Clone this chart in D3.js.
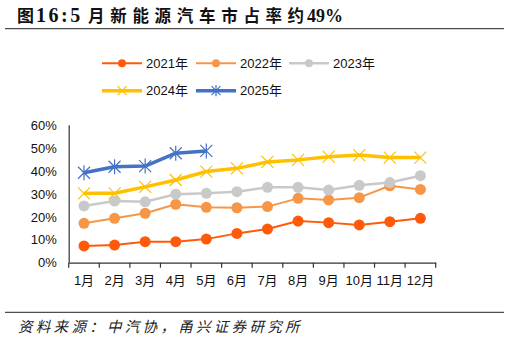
<!DOCTYPE html>
<html>
<head>
<meta charset="utf-8">
<script src="https://cdn.jsdelivr.net/npm/d3@7/dist/d3.min.js"></script>
<style>
  body { margin: 0; background: #fff; }
  svg { display: block; }
</style>
</head>
<body>
<svg id="chart"></svg>
<script>
// categories and series values (share, %)
var months = ["1月", "2月", "3月", "4月", "5月", "6月", "7月", "8月", "9月", "10月", "11月", "12月"];
var s2021 = [7.3, 7.7, 9.2, 9.2, 10.3, 12.8, 14.7, 18.2, 17.5, 16.5, 17.9, 19.4];
var s2022 = [17.2, 19.4, 21.6, 25.5, 24.2, 24.0, 24.5, 28.1, 27.4, 28.4, 33.6, 32.0];
var s2023 = [24.8, 26.9, 26.6, 29.9, 30.3, 31.0, 32.9, 32.9, 31.7, 33.8, 35.0, 38.0];
var s2024 = [30.3, 30.3, 33.1, 36.1, 39.8, 41.2, 44.0, 44.9, 46.3, 47.0, 45.9, 45.9];
var s2025 = [39.3, 41.9, 42.2, 47.8, 48.8];
var yTicks = [0, 10, 20, 30, 40, 50, 60];

var series = [
  { name: "2021年", values: s2021, color: "#FF5A0A", width: 2,   marker: "circle" },
  { name: "2022年", values: s2022, color: "#F79646", width: 2,   marker: "circle" },
  { name: "2023年", values: s2023, color: "#C9C9C9", width: 2.5, marker: "circle" },
  { name: "2024年", values: s2024, color: "#FFC000", width: 3.5, marker: "x" },
  { name: "2025年", values: s2025, color: "#4472C4", width: 3.5, marker: "star" }
];

var W = 510, H = 340;
var margin = { top: 125.3, left: 68.7, right: W - 435.7, bottom: H - 262.7 };
var iw = W - margin.left - margin.right;
var ih = H - margin.top - margin.bottom;

var svg = d3.select("#chart").attr("width", W).attr("height", H);

// title: CJK spaced out, digits tighter
var title = svg.append("text")
  .attr("y", 22)
  .attr("font-family", "'Liberation Serif', 'Noto Sans CJK SC', serif")
  .attr("font-weight", "bold")
  .attr("fill", "#111");
title.append("tspan").attr("x", 17).attr("font-size", 17).text("图");
title.append("tspan").attr("x", 36).attr("font-size", 20).attr("letter-spacing", 2.5).text("16:5");
title.append("tspan").attr("x", 88).attr("font-size", 16.5).attr("letter-spacing", 5.7).text("月新能源汽车市占率");
title.append("tspan").attr("x", 287.5).attr("font-size", 16.5).text("约");
title.append("tspan").attr("x", 307).attr("font-size", 18).text("49%");

svg.append("line")
  .attr("x1", 5).attr("x2", 504).attr("y1", 28.7).attr("y2", 28.7)
  .attr("stroke", "#222").attr("stroke-width", 1);

var g = svg.append("g")
  .attr("transform", "translate(" + margin.left + "," + margin.top + ")");

var x = d3.scaleBand().domain(months).range([0, iw]);
var y = d3.scaleLinear().domain([0, 60]).range([ih, 0]);

var labelFont = "'Liberation Sans', 'Noto Sans CJK SC', sans-serif";

// y axis
var yAxis = g.append("g")
  .call(d3.axisLeft(y).tickValues(yTicks).tickSize(0).tickPadding(12)
    .tickFormat(function (d) { return d + "%"; }));
yAxis.select(".domain").attr("stroke", "#333").attr("stroke-width", 1.2)
  .attr("d", "M0.5,0V" + ih);
yAxis.selectAll("text").attr("font-family", labelFont).attr("font-size", 13).attr("fill", "#111");

// x axis
var xAxis = g.append("g").attr("transform", "translate(0," + ih + ")")
  .call(d3.axisBottom(x).tickSize(0).tickPadding(13));
xAxis.select(".domain").attr("stroke", "#333").attr("stroke-width", 1.2);
xAxis.selectAll("text").attr("font-family", labelFont).attr("font-size", 13).attr("fill", "#111");
// tick marks at band boundaries
g.append("g").selectAll("line")
  .data(d3.range(months.length + 1))
  .enter().append("line")
  .attr("x1", function (i) { return i * x.step(); })
  .attr("x2", function (i) { return i * x.step(); })
  .attr("y1", ih).attr("y2", ih + 5)
  .attr("stroke", "#333").attr("stroke-width", 1.2);

function drawMarker(sel, type, color, size) {
  if (type === "circle") {
    sel.append("circle").attr("r", size).attr("fill", color);
  } else if (type === "x") {
    var s = size;
    sel.append("path").attr("d", "M" + (-s) + "," + (-s) + "L" + s + "," + s + "M" + (-s) + "," + s + "L" + s + "," + (-s))
      .attr("stroke", color).attr("stroke-width", 1.2).attr("fill", "none");
  } else {
    var s = size;
    sel.append("path").attr("d", "M" + (-s) + "," + (-s) + "L" + s + "," + s + "M" + (-s) + "," + s + "L" + s + "," + (-s) +
      "M0," + (-s * 1.25) + "L0," + (s * 1.25))
      .attr("stroke", color).attr("stroke-width", 1.2).attr("fill", "none");
  }
}

var line = d3.line()
  .x(function (d, i) { return x(months[i]) + x.bandwidth() / 2; })
  .y(function (d) { return y(d); });

series.forEach(function (s) {
  g.append("path")
    .datum(s.values)
    .attr("d", line)
    .attr("fill", "none")
    .attr("stroke", s.color)
    .attr("stroke-width", s.width)
    .attr("stroke-linejoin", "round");
  g.append("g").selectAll("g")
    .data(s.values)
    .enter().append("g")
    .attr("transform", function (d, i) {
      return "translate(" + (x(months[i]) + x.bandwidth() / 2) + "," + y(d) + ")";
    })
    .each(function () {
      drawMarker(d3.select(this), s.marker, s.color, s.marker === "circle" ? 5.5 : 6);
    });
});

// legend
var legendPos = [[102, 63.3], [196, 63.3], [289, 63.3], [102, 90.7], [196, 90.7]];
series.forEach(function (s, i) {
  var lg = svg.append("g").attr("transform", "translate(" + legendPos[i][0] + "," + legendPos[i][1] + ")");
  lg.append("line").attr("x1", 0).attr("x2", 40).attr("y1", 0).attr("y2", 0)
    .attr("stroke", s.color).attr("stroke-width", s.width);
  var m = lg.append("g").attr("transform", "translate(20,0)");
  drawMarker(m, s.marker, s.color, s.marker === "circle" ? 4 : 4.5);
  lg.append("text").attr("x", 44).attr("y", 4.5)
    .attr("font-family", labelFont).attr("font-size", 13).attr("fill", "#111")
    .text(s.name);
});

// footer
svg.append("line")
  .attr("x1", 5).attr("x2", 504).attr("y1", 312.3).attr("y2", 312.3)
  .attr("stroke", "#222").attr("stroke-width", 1);

svg.append("text")
  .attr("x", 18).attr("y", 332)
  .attr("font-family", "'Noto Sans CJK SC', sans-serif")
  .attr("font-style", "italic")
  .attr("font-size", 14.5)
  .attr("letter-spacing", 3.3)
  .attr("fill", "#222")
  .text("资料来源：中汽协，甬兴证券研究所");
</script>
</body>
</html>
